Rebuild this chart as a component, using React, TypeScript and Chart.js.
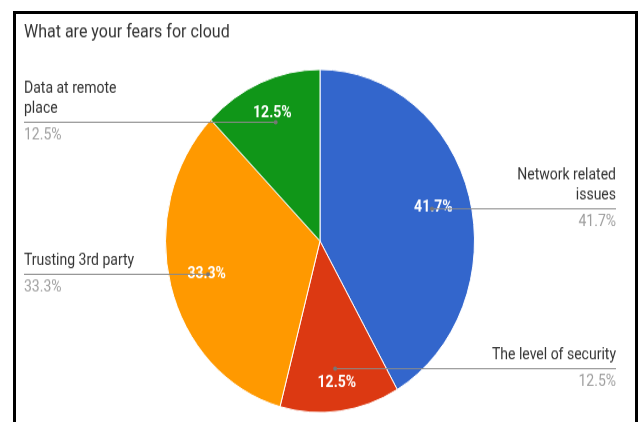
import React, { useEffect, useRef } from "react";
import { Chart, registerables } from "chart.js";
Chart.register(...registerables);

const TITLE = "What are your fears for cloud";
const categories: string[][] = [
  ["Network related", "issues"],
  ["The level of security"],
  ["Trusting 3rd party"],
  ["Data at remote", "place"],
];
const values = [10, 3, 8, 3];
const colors = ["#3366cc", "#dc3912", "#ff9900", "#109618"];

const CW = 619;
const CH = 368;
const SY = 1.11;

const labelPlugin = {
  id: "gLabels",
  afterDatasetsDraw(chart: any) {
    const ctx = chart.ctx;
    const meta = chart.getDatasetMeta(0);
    const total = values.reduce((a, b) => a + b, 0);
    ctx.save();
    // title
    ctx.font = "16px Roboto";
    ctx.fillStyle = "#333333";
    ctx.textAlign = "left";
    ctx.textBaseline = "middle";
    ctx.fillText(TITLE, 8, 16.5);

    meta.data.forEach((arc: any, i: number) => {
      const p = arc.getProps(["x", "y", "startAngle", "endAngle", "outerRadius"], true);
      const mid = (p.startAngle + p.endAngle) / 2;
      const pct = ((values[i] / total) * 100).toFixed(1) + "%";
      const r = p.outerRadius;
      // inside label, fitted inside the circle
      ctx.font = "bold 14px Roboto";
      const tw = ctx.measureText(pct).width;
      const th = 12;
      const d = r * 0.89 - (Math.abs(Math.cos(mid)) * tw) / 2 - (Math.abs(Math.sin(mid)) * th) / 2;
      const lx = p.x + Math.cos(mid) * d;
      const ly = p.y + Math.sin(mid) * d;
      ctx.fillStyle = "#ffffff";
      ctx.textAlign = "center";
      ctx.textBaseline = "middle";
      ctx.fillText(pct, lx, ly);
      // leader
      const dx = p.x + Math.cos(mid) * r * 0.75;
      const dy = Math.round(p.y + Math.sin(mid) * r * 0.75) + 0.5;
      const right = Math.cos(mid) > 0;
      const endX = right ? chart.width - 19 : 8;
      ctx.strokeStyle = "#8a8a8a";
      ctx.lineWidth = 1;
      ctx.beginPath();
      ctx.moveTo(dx, dy);
      ctx.lineTo(endX, dy);
      ctx.stroke();
      ctx.fillStyle = "#777777";
      ctx.beginPath();
      ctx.arc(dx, dy, 2, 0, Math.PI * 2);
      ctx.fill();
      // name lines
      const lines = categories[i];
      ctx.font = "14px Roboto";
      ctx.fillStyle = "#333333";
      ctx.textAlign = right ? "right" : "left";
      lines.forEach((t, k) => {
        ctx.fillText(t, endX, dy - 12 - (lines.length - 1 - k) * 18);
      });
      ctx.fillStyle = "#9e9e9e";
      ctx.fillText(pct, endX, dy + 12);
    });
    ctx.restore();
  },
};

export default function App() {
  const ref = useRef<HTMLCanvasElement | null>(null);
  useEffect(() => {
    if (!ref.current) return;
    const cx = 304;
    const cy = 204.5;
    const rad = 155;
    const chart = new Chart(ref.current, {
      type: "pie",
      data: {
        labels: categories,
        datasets: [
          {
            data: values,
            backgroundColor: colors,
            borderColor: "#ffffff",
            borderWidth: 1,
          },
        ],
      },
      options: {
        responsive: false,
        animation: false,
        events: [],
        layout: {
          padding: {
            left: cx - rad,
            right: CW - (cx + rad),
            top: cy - rad,
            bottom: CH - (cy + rad),
          },
        },
        plugins: {
          legend: { display: false },
          tooltip: { enabled: false },
          title: { display: false },
        },
      },
      plugins: [labelPlugin],
    });
    return () => chart.destroy();
  }, []);

  return (
    <div style={{ position: "fixed", left: 0, top: 0, width: 642, height: 422, overflow: "hidden", background: "#fff" }}>
      <div
        style={{
          position: "absolute",
          left: 13,
          top: 11,
          width: CW,
          height: 460,
          border: "3px solid #000",
          background: "#fff",
          overflow: "hidden",
        }}
      >
        <canvas
          ref={ref}
          width={CW}
          height={CH}
          style={{ display: "block", width: CW, height: CH, transform: `scaleY(${SY})`, transformOrigin: "0 0" }}
        />
      </div>
    </div>
  );
}
